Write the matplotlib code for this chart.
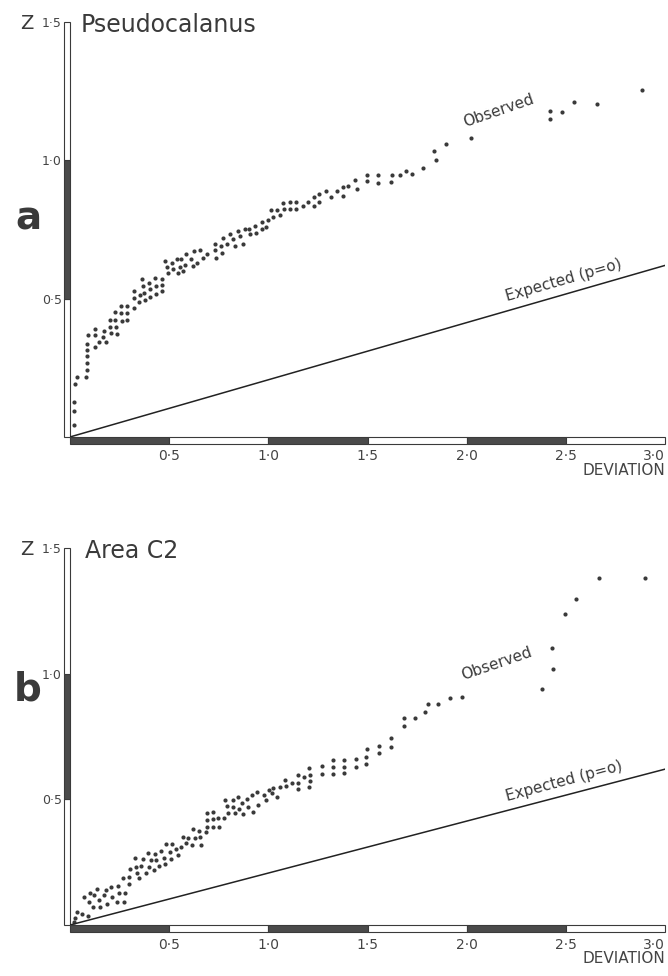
import matplotlib
matplotlib.use("Agg")
import matplotlib.pyplot as plt
from matplotlib.patches import Rectangle

# panel a - Pseudocalanus, observed points (deviation, Z)
obs_a_x = [0.022, 0.022, 0.022, 0.025, 0.034, 0.081, 0.084, 0.084, 0.087, 0.088,
           0.088, 0.090, 0.127, 0.128, 0.128, 0.145, 0.165, 0.169, 0.182, 0.203,
           0.203, 0.208, 0.225, 0.229, 0.233, 0.236, 0.257, 0.258, 0.263, 0.287,
           0.287, 0.287, 0.321, 0.321, 0.324, 0.348, 0.351, 0.361, 0.368, 0.371,
           0.378, 0.398, 0.402, 0.405, 0.427, 0.432, 0.432, 0.462, 0.466, 0.466,
           0.479, 0.489, 0.494, 0.516, 0.520, 0.537, 0.542, 0.553, 0.562, 0.571,
           0.579, 0.587, 0.608, 0.618, 0.624, 0.638, 0.655, 0.672, 0.692, 0.731,
           0.731, 0.734, 0.759, 0.765, 0.773, 0.793, 0.807, 0.824, 0.832, 0.849,
           0.857, 0.871, 0.883, 0.905, 0.908, 0.933, 0.938, 0.967, 0.967, 0.989,
           0.996, 1.013, 1.021, 1.043, 1.060, 1.072, 1.080, 1.111, 1.111, 1.139,
           1.139, 1.176, 1.202, 1.229, 1.232, 1.257, 1.257, 1.290, 1.316, 1.347,
           1.376, 1.376, 1.404, 1.438, 1.445, 1.499, 1.499, 1.553, 1.553, 1.617,
           1.624, 1.664, 1.695, 1.725, 1.782, 1.836, 1.845, 1.894, 2.022, 2.422,
           2.422, 2.481, 2.543, 2.655, 2.886]
obs_a_y = [0.045, 0.093, 0.126, 0.190, 0.218, 0.218, 0.243, 0.267, 0.293, 0.315,
           0.337, 0.368, 0.390, 0.368, 0.325, 0.344, 0.361, 0.384, 0.344, 0.424,
           0.397, 0.376, 0.450, 0.424, 0.397, 0.372, 0.475, 0.448, 0.418, 0.475,
           0.448, 0.424, 0.466, 0.502, 0.529, 0.487, 0.514, 0.571, 0.545, 0.521,
           0.496, 0.557, 0.533, 0.506, 0.575, 0.545, 0.518, 0.571, 0.551, 0.529,
           0.635, 0.613, 0.591, 0.629, 0.607, 0.645, 0.593, 0.615, 0.645, 0.599,
           0.623, 0.662, 0.644, 0.617, 0.671, 0.629, 0.675, 0.647, 0.663, 0.698,
           0.675, 0.647, 0.690, 0.665, 0.720, 0.696, 0.732, 0.714, 0.692, 0.744,
           0.726, 0.699, 0.750, 0.752, 0.732, 0.764, 0.737, 0.776, 0.750, 0.760,
           0.784, 0.822, 0.796, 0.822, 0.801, 0.847, 0.825, 0.851, 0.825, 0.851,
           0.825, 0.834, 0.849, 0.868, 0.834, 0.877, 0.849, 0.888, 0.868, 0.890,
           0.902, 0.871, 0.907, 0.928, 0.897, 0.947, 0.925, 0.947, 0.919, 0.923,
           0.946, 0.946, 0.963, 0.949, 0.972, 1.033, 1.001, 1.060, 1.079, 1.179,
           1.151, 1.176, 1.209, 1.203, 1.255]

# panel b - Area C2
obs_b_x = [0.020, 0.027, 0.034, 0.061, 0.090,
           0.073, 0.095, 0.101, 0.115, 0.123, 0.135, 0.145, 0.152, 0.169, 0.179,
           0.186, 0.208, 0.213, 0.236, 0.241, 0.246, 0.267, 0.270, 0.275, 0.297,
           0.297, 0.304, 0.326, 0.331, 0.337, 0.348, 0.359, 0.368, 0.385, 0.393,
           0.398, 0.410, 0.422, 0.427, 0.435, 0.449, 0.461, 0.473, 0.479, 0.486,
           0.506, 0.511, 0.513, 0.533, 0.545, 0.562, 0.571, 0.584, 0.597, 0.613,
           0.621, 0.630, 0.652, 0.655, 0.658, 0.685, 0.689, 0.689, 0.689, 0.719,
           0.719, 0.722, 0.748, 0.753, 0.776, 0.783, 0.790, 0.798, 0.820, 0.824,
           0.832, 0.849, 0.854, 0.866, 0.871, 0.891, 0.899, 0.916, 0.922, 0.942,
           0.950, 0.976, 0.989, 1.001, 1.018, 1.026, 1.046, 1.060, 1.085, 1.090,
           1.117, 1.148, 1.151, 1.148, 1.178, 1.207, 1.212, 1.212, 1.207, 1.269,
           1.269, 1.325, 1.325, 1.325, 1.381, 1.381, 1.381, 1.440, 1.440, 1.494,
           1.499, 1.494, 1.556, 1.556, 1.617, 1.617, 1.685, 1.685, 1.742, 1.792,
           1.806, 1.857, 1.915, 1.978, 2.380,
           2.430, 2.434, 2.494, 2.549, 2.667, 2.900]
obs_b_y = [0.012, 0.027, 0.053, 0.044, 0.036,
           0.110, 0.093, 0.126, 0.073, 0.119, 0.142, 0.099, 0.073, 0.119, 0.139,
           0.084, 0.152, 0.113, 0.093, 0.155, 0.129, 0.186, 0.093, 0.126, 0.190,
           0.163, 0.222, 0.265, 0.232, 0.206, 0.186, 0.235, 0.261, 0.206, 0.285,
           0.232, 0.259, 0.219, 0.283, 0.259, 0.235, 0.296, 0.265, 0.243, 0.322,
           0.292, 0.261, 0.322, 0.301, 0.279, 0.309, 0.351, 0.328, 0.345, 0.318,
           0.381, 0.345, 0.375, 0.349, 0.318, 0.371, 0.391, 0.418, 0.444, 0.421,
           0.391, 0.451, 0.425, 0.391, 0.425, 0.497, 0.474, 0.447, 0.497, 0.471,
           0.444, 0.511, 0.460, 0.487, 0.442, 0.500, 0.471, 0.517, 0.451, 0.531,
           0.478, 0.517, 0.497, 0.537, 0.524, 0.544, 0.511, 0.550, 0.577, 0.553,
           0.566, 0.597, 0.566, 0.540, 0.588, 0.624, 0.597, 0.574, 0.548, 0.633,
           0.601, 0.657, 0.627, 0.601, 0.657, 0.630, 0.604, 0.659, 0.630, 0.670,
           0.699, 0.641, 0.712, 0.686, 0.743, 0.710, 0.825, 0.793, 0.825, 0.846,
           0.878, 0.878, 0.902, 0.908, 0.939,
           1.104, 1.019, 1.239, 1.296, 1.380, 1.382]

# expected line, p = 0
expected_x = [0.0, 3.0]
expected_y = [0.0, 0.62]

x_ticks = [0.5, 1.0, 1.5, 2.0, 2.5, 3.0]
x_tick_labels = ["0·5", "1·0", "1·5", "2·0", "2·5", "3·0"]
y_ticks = [0.5, 1.0, 1.5]
y_tick_labels = ["0·5", "1·0", "1·5"]

ink = "#3a3a3a"
dark = "#4a4a4a"


def scale_bars(ax, bar_w, bar_h):
    # y axis: white / dark / white segments
    for i, (lo, hi) in enumerate([(0, 0.5), (0.5, 1.0), (1.0, 1.5)]):
        fc = dark if i == 1 else "white"
        ax.add_patch(Rectangle((-bar_w, lo), bar_w, hi - lo, facecolor=fc,
                               edgecolor=ink, lw=0.8, clip_on=False, zorder=3))
    # x axis: dark / white alternating
    for i in range(6):
        fc = dark if i % 2 == 0 else "white"
        ax.add_patch(Rectangle((i * 0.5, -bar_h), 0.5, bar_h, facecolor=fc,
                               edgecolor=ink, lw=0.8, clip_on=False, zorder=3))


def panel(ax, xs, ys, title, title_off, obs_pos, exp_pos, exp_rot, bar_h):
    ax.set_xlim(0, 3.0)
    ax.set_ylim(0, 1.5)
    for s in ax.spines.values():
        s.set_visible(False)
    ax.scatter(xs, ys, s=9, color=ink, linewidths=0, zorder=4)
    ax.plot(expected_x, expected_y, color="#222222", lw=1.1, zorder=4)
    scale_bars(ax, 0.03, bar_h)

    ax.set_xticks(x_ticks)
    ax.set_xticklabels(x_tick_labels, fontsize=10, color="#444444")
    ax.get_xticklabels()[-1].set_ha("right")
    ax.set_yticks(y_ticks)
    ax.set_yticklabels(y_tick_labels, fontsize=9, color="#444444")
    ax.tick_params(axis="x", length=0, pad=9)
    ax.tick_params(axis="y", length=0, pad=6)

    ax.annotate("Z", xy=(0, 1.5), xytext=(-31, -1), textcoords="offset points",
                ha="center", va="center", fontsize=14, color=ink)
    ax.annotate(title, xy=(0, 1.5), xytext=(title_off, -2), textcoords="offset points",
                ha="left", va="center", fontsize=17, color=ink)
    ax.annotate("DEVIATION", xy=(1, 0), xycoords="axes fraction", xytext=(0, -24),
                textcoords="offset points", ha="right", va="center",
                fontsize=11, color="#444444")
    ax.text(obs_pos[0], obs_pos[1], "Observed", rotation=19, ha="center", va="center",
            rotation_mode="anchor", fontsize=11, color=ink)
    ax.annotate("Expected (p=o)", xy=exp_pos, xytext=(0, 5), textcoords="offset points",
                rotation=exp_rot, rotation_mode="anchor", ha="center", va="bottom",
                fontsize=11, color=ink)


fig = plt.figure(figsize=(6.68, 9.76), dpi=100)
ax1 = fig.add_axes([0.1048, 0.5523, 0.8907, 0.4252])
ax2 = fig.add_axes([0.1048, 0.05225, 0.8907, 0.3863])

panel(ax1, obs_a_x, obs_a_y, "Pseudocalanus", 8, (2.16, 1.18), (2.5, 0.517), 16, 0.026)
panel(ax2, obs_b_x, obs_b_y, "Area C2", 11, (2.15, 1.04), (2.5, 0.517), 15, 0.029)

fig.text(0.042, 0.765, "a", fontsize=28, fontweight="bold", color=ink, ha="center",
         va="baseline")
fig.text(0.042, 0.282, "b", fontsize=28, fontweight="bold", color=ink, ha="center",
         va="baseline")

fig.savefig("out.png", dpi=100, facecolor="white")
